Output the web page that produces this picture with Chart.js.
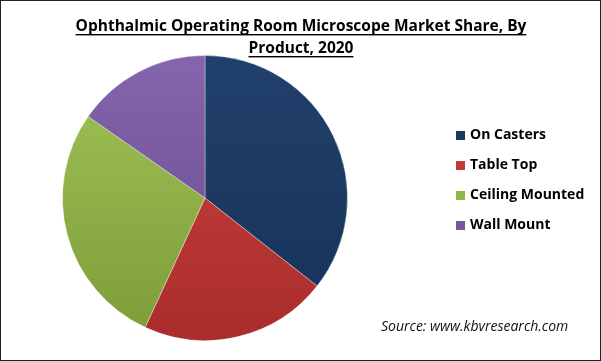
<!DOCTYPE html>
<html>
<head>
<meta charset="utf-8">
<script src="https://cdn.jsdelivr.net/npm/chart.js@4"></script>
<style>
  html, body { margin: 0; padding: 0; background: #fff; }
  canvas { display: block; }
</style>
</head>
<body>
<canvas id="myChart" width="601" height="361"></canvas>
<script>
const titleLines = ['Ophthalmic Operating Room Microscope Market Share, By', 'Product, 2020'];
const products = ['On Casters', 'Table Top', 'Ceiling Mounted', 'Wall Mount'];
const shares = [35.6, 21.3, 27.8, 15.3];
const sourceText = 'Source: www.kbvresearch.com';

// top / bottom shade of every slice
const topColors = ['#21406b', '#cc433f', '#a0c455', '#8565ad'];
const bottomColors = ['#16325a', '#a92d2b', '#7d9c39', '#664a8c'];
const flatColors = ['#1c395f', '#c03a37', '#93b549', '#7658a0'];

function sliceColor(context) {
  const chart = context.chart;
  const area = chart.chartArea;
  const i = context.dataIndex;
  if (!area) return flatColors[i];
  const g = chart.ctx.createLinearGradient(0, area.top, 0, area.bottom);
  g.addColorStop(0, topColors[i]);
  g.addColorStop(1, bottomColors[i]);
  return g;
}

const decor = {
  id: 'decor',
  afterDraw(chart) {
    const ctx = chart.ctx;
    ctx.save();
    // frame
    ctx.strokeStyle = '#222';
    ctx.lineWidth = 1;
    ctx.strokeRect(0.5, 0.5, 600, 360);

    // title, underlined
    ctx.fillStyle = '#000';
    ctx.font = 'bold 15.5px "Open Sans"';
    ctx.textAlign = 'center';
    ctx.textBaseline = 'alphabetic';
    const baselines = [31, 53];
    titleLines.forEach((t, i) => {
      ctx.fillText(t, 301, baselines[i]);
      const w = ctx.measureText(t).width;
      ctx.fillRect(301 - w / 2, baselines[i] + 3, w, 1.4);
    });

    // legend
    ctx.textAlign = 'left';
    ctx.textBaseline = 'middle';
    ctx.font = 'bold 14px "Open Sans"';
    products.forEach((p, i) => {
      const y = 135 + i * 30;
      ctx.fillStyle = flatColors[i];
      ctx.fillRect(456, y - 4, 9, 9);
      ctx.fillStyle = '#000';
      ctx.fillText(p, 470, y);
    });

    // source
    ctx.font = 'italic 14px "Open Sans"';
    ctx.textBaseline = 'alphabetic';
    ctx.fillStyle = '#111';
    ctx.fillText(sourceText, 381, 331);
    ctx.restore();
  }
};

const ctx = document.getElementById('myChart').getContext('2d');
const myChart = new Chart(ctx, {
  type: 'pie',
  data: {
    labels: products,
    datasets: [{
      data: shares,
      backgroundColor: sliceColor,
      borderColor: 'rgba(255,255,255,0.35)',
      borderWidth: 1
    }]
  },
  options: {
    responsive: false,
    animation: false,
    devicePixelRatio: 1,
    layout: {
      padding: { left: 62, top: 55, right: 253, bottom: 20 }
    },
    plugins: {
      legend: { display: false },
      tooltip: { enabled: false }
    }
  },
  plugins: [decor]
});
</script>
</body>
</html>
